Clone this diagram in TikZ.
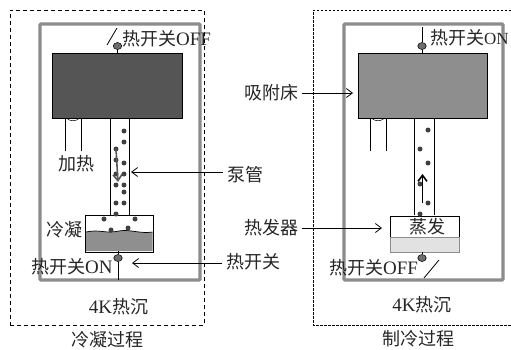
\documentclass[tikz,border=0pt]{standalone}
\usepackage{fontspec}
\setmainfont{Liberation Serif}
\newfontfamily\cjk{Noto Sans CJK SC}
\usepackage{xcolor}
\usetikzlibrary{positioning, arrows.meta, fit, backgrounds, calc, shapes.geometric}
\definecolor{framegray}{HTML}{8C8C8C}
\definecolor{darkbed}{HTML}{555555}
\definecolor{lightbed}{HTML}{8E8E8E}
\definecolor{liquidgray}{HTML}{8F8F8F}
\definecolor{palegray}{HTML}{E2E2E2}
\definecolor{switchgray}{HTML}{6E6E6E}
\tikzset{
  heatsink/.style={draw=framegray, line width=3.2pt, rounded corners=1pt},
  bed/.style={draw=black, line width=0.7pt},
  pipeline/.style={line width=0.9pt},
  switchdot/.style={draw=black, fill=switchgray, ellipse, inner sep=0pt, minimum width=8.5pt, minimum height=7pt, line width=0.5pt},
  pointer/.style={-{Straight Barb[length=6pt,width=9pt]}, line width=0.8pt},
  lbl/.style={font=\fontsize{18}{18}\selectfont\cjk, inner sep=0pt, text=black!85},
  drop/.style={fill=black!75, circle, inner sep=0pt, minimum size=5pt},
  flow/.style={-{Straight Barb[length=6pt,width=9pt]}, line width=1.6pt}
}
\newcommand{\latin}[1]{{\fontsize{19}{19}\rmfamily #1}}
\begin{document}
\begin{tikzpicture}[x=1pt,y=-1pt]
  \useasboundingbox (0,0) rectangle (511,349);
  % left: condensing
  \node[draw, dash pattern=on 4pt off 3pt, line width=0.9pt, minimum width=194pt, minimum height=315pt, inner sep=0pt] (leftbox) at (107,167.5) {};
  \node[heatsink, minimum width=160pt, minimum height=256pt, inner sep=0pt] (leftsink) at (120,152) {};
  \node[bed, fill=darkbed, minimum width=130pt, minimum height=65pt, inner sep=0pt] (leftbed) at (117.5,85.5) {};
  \node[draw=black, fill=white, line width=0.7pt, minimum width=68pt, minimum height=37pt, inner sep=0pt] (leftpot) at (119,233.5) {};
  \fill[liquidgray] (86,232) .. controls (100,229) and (105,234) .. (119,231) .. controls (130,229) and (140,234) .. (152.5,232) -- (152.5,251) -- (86,251) -- cycle;
  \draw[line width=0.7pt] (86,232) .. controls (100,229) and (105,234) .. (119,231) .. controls (130,229) and (140,234) .. (152.5,232);
  \draw[pipeline] (110,118) -- (110,215) (129.5,118) -- (129.5,215);
  \draw[pipeline] (65,118) -- (65,151) (81,118) -- (81,151);
  \draw[line width=0.5pt] (67,118.5) .. controls (70,121.5) and (76,121.5) .. (79,118.5);
  \foreach \px/\py in {124/131,124/142,116/149,116/160,124/163,116/174,124/174,116/185,124/185,124/192,116/203,124/203,116/214,104/219,135/219,111/230,128/228}
    \node[drop] at (\px,\py) {};
  \draw[flow, draw=black!65] (116,149) -- (118,182);
  \node[switchdot] (leftoff) at (117.5,46) {};
  \draw[line width=0.7pt] (leftoff) -- (117.5,53);
  \coordinate (leftcut1) at (107,45);
  \coordinate (leftcut2) at (117,28);
  \draw[line width=0.8pt] (leftcut1) -- (leftcut2);
  \node[switchdot] (lefton) at (118,258) {};
  \draw[line width=0.8pt] (118,251) -- (lefton) -- (118,280);
  % right: cooling
  \draw[dash pattern=on 2.5pt off 1.5pt, line width=0.6pt] (511,10) -- (313,10) -- (313,325) -- (511,325);
  \node[heatsink, minimum width=159pt, minimum height=256pt, inner sep=0pt] (rightsink) at (423.5,152) {};
  \node[bed, fill=lightbed, minimum width=129pt, minimum height=65pt, inner sep=0pt] (rightbed) at (422.5,85.5) {};
  \node[draw=black, fill=white, line width=0.7pt, minimum width=69pt, minimum height=21pt, inner sep=0pt] (rightpot) at (424.5,226.5) {};
  \node[draw=black!45, fill=palegray, line width=0.7pt, minimum width=69pt, minimum height=15pt, inner sep=0pt, below=0pt of rightpot] (rightliquid) {};
  \draw[pipeline] (414,118) -- (414,215) (434,118) -- (434,215);
  \draw[pipeline] (370,118) -- (370,151) (386,118) -- (386,151);
  \draw[line width=0.5pt] (372,118.5) .. controls (375,121.5) and (381,121.5) .. (384,118.5);
  \foreach \px/\py in {428/130,420/149,428/163,420/184,428/203,420/214}
    \node[drop] at (\px,\py) {};
  \draw[flow] (422.5,203) -- (422.5,174);
  \node[switchdot] (righton) at (422,46) {};
  \coordinate (rightontop) at (422,27);
  \draw[line width=0.8pt] (rightontop) -- (righton) -- (422,53);
  \node[switchdot] (rightoff) at (422,258) {};
  \draw[line width=0.7pt] (rightoff) -- (422,252);
  \coordinate (rightcut1) at (424,278);
  \coordinate (rightcut2) at (439,260);
  \draw[line width=0.8pt] (rightcut1) -- (rightcut2);
  % labels
  \node[lbl, anchor=west] (offleft) at (122,39) {热开关\latin{OFF}};
  \node[lbl, anchor=west] (onright) at (430,38) {热开关{\fontsize{17}{17}\rmfamily ON}};
  \node[lbl] (heatleft) at (76.5,164) {加热};
  \node[lbl] (condense) at (64,230) {冷凝};
  \node[lbl, anchor=west] (onleft) at (31,267) {热开关\latin{ON}};
  \node[lbl] (sinkleft) at (118.5,307) {\latin{4K}热沉};
  \node[lbl] (titleleft) at (107,340) {冷凝过程};
  \node[lbl] (sinkright) at (422,305) {\latin{4K}热沉};
  \node[lbl] (titleright) at (418.5,339) {制冷过程};
  \node[lbl] (evap) at (427,227) {蒸发};
  \node[lbl, anchor=west] (offright) at (329,268) {热开关\latin{OFF}};
  \node[lbl] (bedlabel) at (271.5,93) {吸附床};
  \node[lbl] (pipelabel) at (245,175) {泵管};
  \node[lbl] (heaterlabel) at (271.5,228) {热发器};
  \node[lbl] (switchlabel) at (253,262) {热开关};
  % pointers
  \coordinate (bedtip) at (353,93);
  \coordinate (pipetip) at (131,172);
  \coordinate (switchtip) at (132,263);
  \coordinate (heatertip) at (382,228);
  \draw[pointer] (bedlabel.east) ++(3,0) -- (bedtip);
  \draw[pointer] (pipelabel.west) ++(-4,-3) -- (pipetip);
  \draw[pointer] (heaterlabel.east) ++(3,0) -- (heatertip);
  \draw[pointer] (switchlabel.west) ++(-4,1) -- (switchtip);
\end{tikzpicture}
\end{document}
